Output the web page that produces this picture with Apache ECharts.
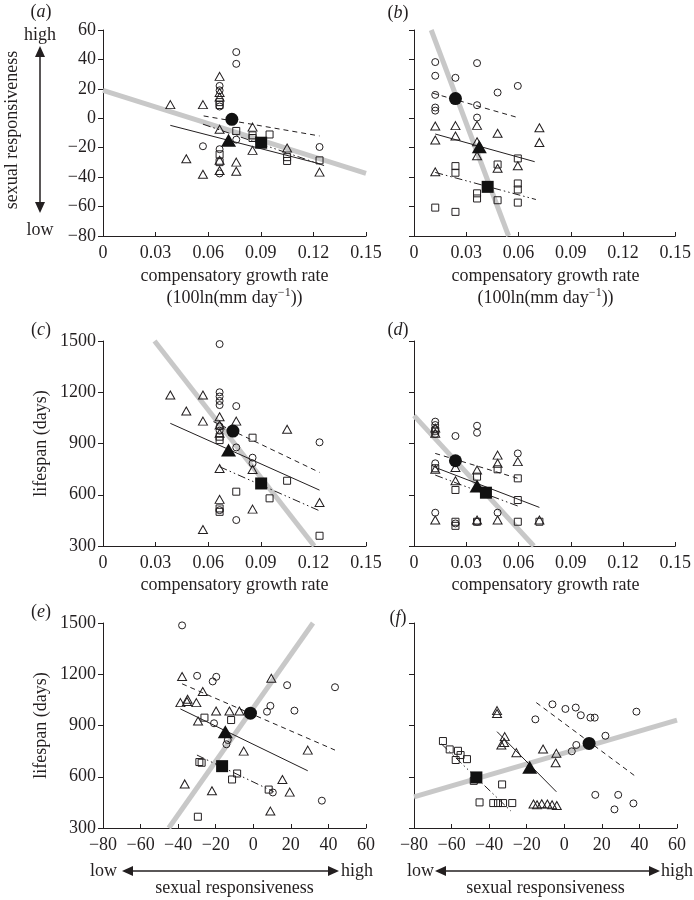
<!DOCTYPE html>
<html><head><meta charset="utf-8">
<script src="https://cdn.jsdelivr.net/npm/echarts@6/dist/echarts.min.js"></script>
<style>html,body{margin:0;padding:0;background:#fff}#c{width:694px;height:900px}</style>
</head><body><div id="c"></div>
<script>
// ---------- tick labels ----------
const growthTicks = [0, 0.03, 0.06, 0.09, 0.12, 0.15];
const srTicks = [-80, -60, -40, -20, 0, 20, 40, 60];
const lifeTicks = [300, 600, 900, 1200, 1500];

// ---------- panel (a): growth rate vs sexual responsiveness ----------
const aCircles = [[0.076,45],[0.076,37],[0.0665,22],[0.0665,19],[0.0665,8],[0.057,-19],[0.0665,-21],[0.0665,-37.5],[0.076,-14.5],[0.1235,-19.5]];
const aTriangles = [[0.0384,9.3],[0.057,9.3],[0.0475,-27.5],[0.057,-38],[0.0665,28.5],[0.0665,17.5],[0.0665,14.5],[0.0665,-7.5],[0.0665,-28.5],[0.0665,-35.5],[0.076,-29.8],[0.076,-36],[0.0853,-6],[0.0853,-21.8],[0.105,-20.2],[0.1235,-36.6]];
const aSquares = [[0.0665,11],[0.0665,9],[0.0665,-24.5],[0.0665,-29.8],[0.076,-8.6],[0.0853,-11.6],[0.0853,-13.4],[0.095,-11],[0.105,-26.4],[0.105,-29],[0.1235,-28.6]];
const aMeans = [[0.0735,-0.7],[0.0716,-15],[0.0902,-16.6]];
const aDashed = [[0.0574,1.6],[0.1235,-12]];
const aSolid = [[0.0384,-4.8],[0.1235,-30.9]];
const aDashDot = [[0.057,-4],[0.127,-32.5]];
const aGray = [[0,19],[0.15,-37.5]];

// ---------- panel (b) ----------
const bCircles = [[0.0122,38.2],[0.0122,28.9],[0.0238,27.5],[0.0362,37.5],[0.048,17.5],[0.0596,22],[0.0122,15.9],[0.0122,7.3],[0.0122,5.2],[0.0362,8.9],[0.0362,0.5]];
const bTriangles = [[0.0122,-5.2],[0.0122,-14.8],[0.0238,-5],[0.0238,-12],[0.0362,-4.8],[0.0362,-15.9],[0.0362,-25.5],[0.048,-10.2],[0.072,-6.4],[0.072,-16.4],[0.0122,-36.4],[0.048,-34],[0.0596,-32.3]];
const bSquares = [[0.0238,-32.5],[0.0238,-37],[0.0362,-51],[0.0362,-54.5],[0.048,-31.4],[0.048,-55.7],[0.0596,-27.3],[0.0596,-44.3],[0.0596,-48.4],[0.0596,-57.3],[0.0122,-60.7],[0.0238,-63.6]];
const bMeans = [[0.0238,13.4],[0.0375,-19.3],[0.0423,-46.6]];
const bDashed = [[0.0109,17],[0.0596,0.5]];
const bSolid = [[0.0122,-10.7],[0.0693,-29.5]];
const bDashDot = [[0.0122,-36.8],[0.07,-55.2]];
const bGray = [[0.0099,60],[0.0543,-80]];

// ---------- panel (c): growth rate vs lifespan ----------
const cCircles = [[0.0665,1482],[0.0665,1200],[0.0665,1175],[0.0665,1149],[0.0665,1125],[0.076,1119],[0.0665,1000],[0.0665,975],[0.076,877],[0.0853,817],[0.0853,784],[0.1235,907],[0.076,452],[0.0665,510]];
const cTriangles = [[0.0384,1184],[0.0475,1090],[0.057,1184],[0.057,1031],[0.0665,1057],[0.0665,1008],[0.0665,960],[0.076,1031],[0.0665,754],[0.0665,573],[0.0853,748],[0.0853,516],[0.105,983],[0.1235,555],[0.057,397]];
const cSquares = [[0.0665,940],[0.0665,920],[0.0853,934],[0.076,618],[0.0665,520],[0.0665,500],[0.095,579],[0.105,682],[0.1235,360]];
const cMeans = [[0.0741,973],[0.0716,862],[0.0902,666]];
const cDashed = [[0.063,1028],[0.1235,731]];
const cSolid = [[0.0384,1018],[0.1235,627]];
const cDashDot = [[0.0665,764],[0.1235,506]];
const cGray = [[0.0294,1500],[0.1205,300]];

// ---------- panel (d) ----------
const dCircles = [[0.0122,1028],[0.0122,1008],[0.0122,985],[0.0122,955],[0.0238,944],[0.0362,1004],[0.0362,963],[0.0122,784],[0.0238,807],[0.0596,842],[0.0122,495],[0.048,495],[0.0238,432],[0.0362,442]];
const dTriangles = [[0.0122,990],[0.0122,960],[0.0122,749],[0.0238,682],[0.0238,760],[0.0362,745],[0.048,832],[0.048,784],[0.0596,794],[0.0122,452],[0.048,452],[0.072,452],[0.0362,452]];
const dSquares = [[0.0122,975],[0.0122,755],[0.0238,628],[0.0362,706],[0.048,749],[0.0596,696],[0.0596,569],[0.0238,442],[0.0362,442],[0.0596,442],[0.072,442],[0.0238,418]];
const dMeans = [[0.0238,799],[0.0362,651],[0.0413,612]];
const dDashed = [[0.0122,842],[0.0596,696]];
const dSolid = [[0.0122,760],[0.072,526]];
const dDashDot = [[0.0122,715],[0.0596,534]];
const dGray = [[0,1063],[0.0688,300]];

// ---------- panel (e): sexual responsiveness vs lifespan ----------
const eCircles = [[-37.9,1486],[-29.9,1191],[-21.6,1158],[-19.7,1185],[-20.9,913],[-14.3,790],[-13.6,815],[7.3,981],[9.1,1015],[18,1136],[21.9,987],[43.5,1124],[10.4,508],[36.5,460]];
const eTriangles = [[-37.9,1187],[-38.8,1034],[-35.3,1040],[-35,1054],[-30.3,1034],[-26.9,1099],[-29.4,926],[-19.8,985],[-12.7,985],[-7.4,985],[9.6,1177],[-5.1,750],[29,756],[-36.5,558],[-22,518],[15.5,584],[19.4,510],[9.1,399]];
const eSquares = [[-26,946],[-11.8,932],[-28.7,686],[-27.5,682],[-8.6,619],[-11.3,584],[8.2,525],[-29.5,366]];
const eMeans = [[-1.5,972],[-14.9,864],[-16.6,662]];
const eDashed = [[-37.9,1144],[43.5,756]];
const eSolid = [[-38.8,997],[29,635]];
const eDashDot = [[-30,727],[10.9,512]];
const eGray = [[-45,300],[31.8,1500]];

// ---------- panel (f) ----------
const fCircles = [[-6.3,1024],[0.6,997],[6.1,1005],[8.8,960],[13.9,946],[16.2,946],[38.4,981],[-15.4,936],[21.9,840],[6.4,786],[4,749],[16.5,494],[28.7,494],[36.8,444],[26.7,409]];
const fTriangles = [[-35.8,987],[-35.8,970],[-31.7,835],[-33.5,786],[-32,800],[-25.5,741],[-11.3,762],[-4.2,737],[-4.6,682],[-16.4,440],[-14.5,436],[-12,442],[-9,440],[-6.5,436],[-4,432]];
const fSquares = [[-64.6,809],[-61,760],[-56.6,752],[-55.2,727],[-57.8,698],[-51.8,703],[-48.2,576],[-33.1,555],[-45.1,450],[-37.8,446],[-35.3,446],[-32.6,446],[-27.7,446]];
const fMeans = [[13.2,795],[-18.4,655],[-46.8,596]];
const fDashed = [[-14.9,1034],[38.7,596]];
const fSolid = [[-35.8,864],[-4.2,512]];
const fDashDot = [[-65.4,792],[-28.5,400]];
const fGray = [[-80,482],[60,932]];

// ---------- rendering ----------
const FONT = '"Liberation Serif","Times New Roman",serif';
const INK = '#231f20';
const GRAY = '#c8c8c8';

const panels = [
  {c:aCircles,t:aTriangles,s:aSquares,m:aMeans,dash:aDashed,solid:aSolid,dd:aDashDot,gray:aGray,xt:growthTicks,yt:srTicks},
  {c:bCircles,t:bTriangles,s:bSquares,m:bMeans,dash:bDashed,solid:bSolid,dd:bDashDot,gray:bGray,xt:growthTicks,yt:srTicks},
  {c:cCircles,t:cTriangles,s:cSquares,m:cMeans,dash:cDashed,solid:cSolid,dd:cDashDot,gray:cGray,xt:growthTicks,yt:lifeTicks},
  {c:dCircles,t:dTriangles,s:dSquares,m:dMeans,dash:dDashed,solid:dSolid,dd:dDashDot,gray:dGray,xt:growthTicks,yt:lifeTicks},
  {c:eCircles,t:eTriangles,s:eSquares,m:eMeans,dash:eDashed,solid:eSolid,dd:eDashDot,gray:eGray,xt:srTicks,yt:lifeTicks},
  {c:fCircles,t:fTriangles,s:fSquares,m:fMeans,dash:fDashed,solid:fSolid,dd:fDashDot,gray:fGray,xt:srTicks,yt:lifeTicks}
];

const gridPos = [
  {left:103, top:30, width:263, height:206},
  {left:414, top:30, width:263, height:206},
  {left:103, top:341, width:263, height:205},
  {left:414, top:341, width:263, height:205},
  {left:103, top:623, width:263, height:205},
  {left:414, top:623, width:263, height:205}
];

const minus = v => String(v).replace('-', '\u2212');
const fmtX = (ticks) => (v) => {
  if (ticks === growthTicks) return v === 0 ? '0' : Number(v).toFixed(2);
  return minus(Math.round(v));
};

const grid = [], xAxis = [], yAxis = [], series = [];
panels.forEach((p, i) => {
  grid.push(Object.assign({containLabel:false}, gridPos[i]));
  const xt = p.xt, yt = p.yt;
  xAxis.push({
    gridIndex:i, type:'value', min:xt[0], max:xt[xt.length-1], interval:xt[1]-xt[0],
    axisLine:{show:true, onZero:false, lineStyle:{color:INK, width:1}},
    axisTick:{show:true, inside:true, length:4, lineStyle:{color:INK}},
    axisLabel:{show:true, fontFamily:FONT, fontSize:18, color:INK, margin:8, formatter:fmtX(xt), showMinLabel:true, showMaxLabel:true},
    splitLine:{show:false}
  });
  yAxis.push({
    gridIndex:i, type:'value', min:yt[0], max:yt[yt.length-1], interval:yt[1]-yt[0],
    axisLine:{show:true, onZero:false, lineStyle:{color:INK, width:1}},
    axisTick:{show:true, inside:false, length:5, lineStyle:{color:INK}},
    axisLabel:{show:i % 2 === 0, fontFamily:FONT, fontSize:18, color:INK, margin:7, formatter:v => minus(v), showMinLabel:true, showMaxLabel:true},
    splitLine:{show:false}
  });
  const base = {xAxisIndex:i, yAxisIndex:i, silent:true, animation:false};
  series.push(Object.assign({type:'line', data:p.gray, symbol:'none', z:1, lineStyle:{color:GRAY, width:5, opacity:1}}, base));
  const open = {color:'rgba(255,255,255,0)', borderColor:INK, borderWidth:1, opacity:1};
  series.push(Object.assign({type:'scatter', data:p.c, symbol:'circle', symbolSize:7, z:3, itemStyle:open}, base));
  series.push(Object.assign({type:'scatter', data:p.t, symbol:'triangle', symbolSize:[9,8], z:3, itemStyle:open}, base));
  series.push(Object.assign({type:'scatter', data:p.s, symbol:'rect', symbolSize:7, z:3, itemStyle:open}, base));
  series.push(Object.assign({type:'line', data:p.dash, symbol:'none', z:4, lineStyle:{color:INK, width:1, type:[5,4]}}, base));
  series.push(Object.assign({type:'line', data:p.solid, symbol:'none', z:4, lineStyle:{color:INK, width:1}}, base));
  series.push(Object.assign({type:'line', data:p.dd, symbol:'none', z:4, lineStyle:{color:INK, width:1, type:[8,3,1.5,3,1.5,3]}}, base));
  const filled = {color:'#111', borderColor:'#111', borderWidth:0, opacity:1};
  series.push(Object.assign({type:'scatter', data:[p.m[0]], symbol:'circle', symbolSize:13, z:5, itemStyle:filled}, base));
  series.push(Object.assign({type:'scatter', data:[p.m[1]], symbol:'triangle', symbolSize:[15,13], z:5, itemStyle:filled}, base));
  series.push(Object.assign({type:'scatter', data:[p.m[2]], symbol:'rect', symbolSize:12, z:5, itemStyle:filled}, base));
});

const txt = (x, y, text, extra) => Object.assign({
  type:'text', x:x, y:y,
  style:{text:text, fill:INK, font:'18px ' + FONT, align:'center', verticalAlign:'middle'}
}, extra || {});
const panelLabel = (x, y, letter) => ({
  type:'text', x:x, y:y,
  style:{
    text:'{p|(}{i|' + letter + '}{p|)}', align:'center', verticalAlign:'middle',
    rich:{p:{fontFamily:FONT, fontSize:18, fill:INK, color:INK}, i:{fontFamily:FONT, fontSize:18, fontStyle:'italic', fill:INK, color:INK}}
  }
});
const unitsLabel = (x, y) => ({
  type:'text', x:x, y:y,
  style:{
    text:'{a|(100ln(mm day}{s|\u22121}{a|))}', align:'center', verticalAlign:'middle',
    rich:{a:{fontFamily:FONT, fontSize:18, color:INK, fill:INK, lineHeight:22}, s:{fontFamily:FONT, fontSize:12, color:INK, fill:INK, verticalAlign:'top', lineHeight:12}}
  }
});
const ink = {fill:INK, stroke:null};
const graphic = [
  panelLabel(41, 12, 'a'), panelLabel(398, 13, 'b'),
  panelLabel(41, 330, 'c'), panelLabel(398, 330, 'd'),
  panelLabel(41, 612, 'e'), panelLabel(398, 618, 'f'),
  // y-axis of (a)
  txt(12, 130, 'sexual responsiveness', {rotation:Math.PI/2}),
  txt(40, 35, 'high'), txt(40, 230, 'low'),
  {type:'line', shape:{x1:40, y1:55, x2:40, y2:205}, style:{stroke:INK, lineWidth:1.5}},
  {type:'polygon', shape:{points:[[40,46],[35,57],[45,57]]}, style:ink},
  {type:'polygon', shape:{points:[[40,213],[35,202],[45,202]]}, style:ink},
  // y-axis titles (c), (e)
  txt(41, 443.5, 'lifespan (days)', {rotation:Math.PI/2}),
  txt(41, 725.5, 'lifespan (days)', {rotation:Math.PI/2}),
  // x-axis titles
  txt(234.5, 276, 'compensatory growth rate'), unitsLabel(234.5, 298),
  txt(545.5, 276, 'compensatory growth rate'), unitsLabel(545.5, 298),
  txt(234.5, 585, 'compensatory growth rate'),
  txt(545.5, 585, 'compensatory growth rate'),
  txt(234.5, 888, 'sexual responsiveness'),
  txt(545.5, 888, 'sexual responsiveness'),
  // low/high arrows (e)
  txt(117, 871, 'low', {style:{text:'low', fill:INK, font:'18px ' + FONT, align:'right', verticalAlign:'middle'}}),
  txt(341, 871, 'high', {style:{text:'high', fill:INK, font:'18px ' + FONT, align:'left', verticalAlign:'middle'}}),
  {type:'line', shape:{x1:130, y1:871, x2:330, y2:871}, style:{stroke:INK, lineWidth:1.5}},
  {type:'polygon', shape:{points:[[122,871],[133,866],[133,876]]}, style:ink},
  {type:'polygon', shape:{points:[[339,871],[328,866],[328,876]]}, style:ink},
  // low/high arrows (f)
  txt(434, 871, 'low', {style:{text:'low', fill:INK, font:'18px ' + FONT, align:'right', verticalAlign:'middle'}}),
  txt(661, 871, 'high', {style:{text:'high', fill:INK, font:'18px ' + FONT, align:'left', verticalAlign:'middle'}}),
  {type:'line', shape:{x1:443, y1:871, x2:651, y2:871}, style:{stroke:INK, lineWidth:1.5}},
  {type:'polygon', shape:{points:[[435,871],[446,866],[446,876]]}, style:ink},
  {type:'polygon', shape:{points:[[660,871],[649,866],[649,876]]}, style:ink}
];

const chart = echarts.init(document.getElementById('c'), null, {renderer:'canvas'});
chart.setOption({animation:false, backgroundColor:'#fff', grid, xAxis, yAxis, series, graphic});
</script>
</body></html>
